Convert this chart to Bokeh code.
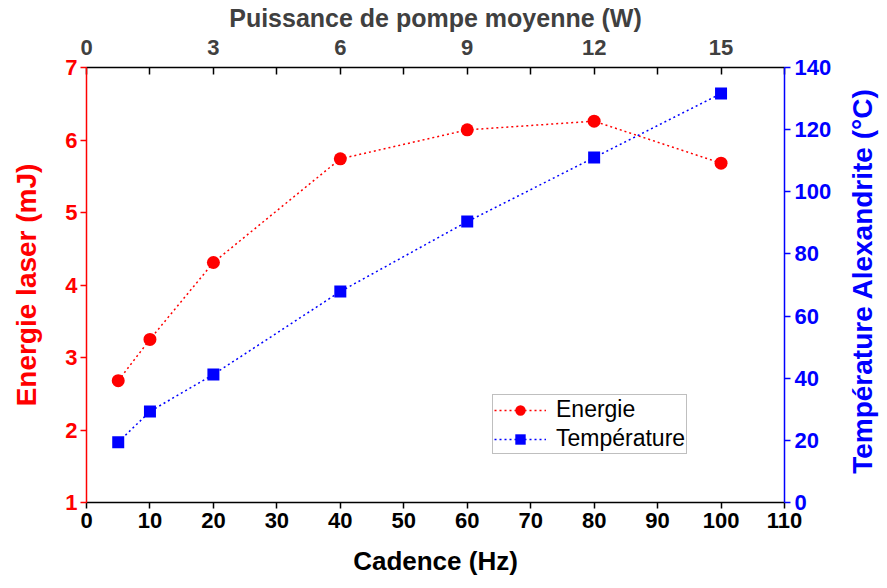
import math
from bokeh.plotting import figure
from bokeh.models import LinearAxis, Range1d, FixedTicker, Legend, LegendItem, Label
from bokeh.embed import file_html
from bokeh.resources import INLINE

# ---- data ----
cadence = [5, 10, 20, 40, 60, 80, 100]
energie = [2.68, 3.25, 4.31, 5.74, 6.14, 6.26, 5.68]
temperature = [19.4, 29.3, 41.2, 67.9, 90.4, 111.0, 131.6]

cadence_ticks = [0, 10, 20, 30, 40, 50, 60, 70, 80, 90, 100, 110]
energie_ticks = [1, 2, 3, 4, 5, 6, 7]
temperature_ticks = [0, 20, 40, 60, 80, 100, 120, 140]
puissance_ticks = [0, 3, 6, 9, 12, 15]
puissance_minor_ticks = [1.5, 4.5, 7.5, 10.5, 13.5, 16.5]
pompe_W_per_Hz = 0.15  # top axis: W = Hz * 0.15

RED = "#FF0000"
BLUE = "#0000FF"
FONT = "Liberation Sans"

p = figure(
    frame_width=698, frame_height=435,
    min_border_left=86, min_border_right=95, min_border_top=67, min_border_bottom=78,
    x_range=Range1d(0, 110), y_range=Range1d(1, 7),
    output_backend="svg", toolbar_location=None,
)
p.extra_y_ranges = {"temp": Range1d(0, 140)}
p.extra_x_ranges = {"pow": Range1d(0, 110 * pompe_W_per_Hz)}
p.grid.visible = False
p.outline_line_color = None
p.background_fill_color = "white"
p.border_fill_color = "white"


def style(ax, color, label_color, title_color, size_lab="22px", size_title="26px"):
    ax.axis_line_color = color
    ax.axis_line_width = 1.5
    ax.major_tick_line_color = color
    ax.major_tick_line_width = 1.5
    ax.major_tick_out = 6
    ax.major_tick_in = 0
    ax.minor_tick_line_color = None
    ax.major_label_text_font = FONT
    ax.major_label_text_font_style = "bold"
    ax.major_label_text_font_size = size_lab
    ax.major_label_text_color = label_color
    ax.axis_label_text_font = FONT
    ax.axis_label_text_font_style = "bold"
    ax.axis_label_text_font_size = size_title
    ax.axis_label_text_color = title_color


# bottom axis
xb = p.xaxis[0]
style(xb, "black", "black", "black")
xb.ticker = FixedTicker(ticks=cadence_ticks)
xb.axis_label = "Cadence (Hz)"
xb.major_label_standoff = 4
xb.axis_label_standoff = 15

# left axis
yl = p.yaxis[0]
style(yl, RED, RED, RED, size_title="28px")
yl.ticker = FixedTicker(ticks=energie_ticks)
yl.axis_label = "Energie laser (mJ)"
yl.major_label_standoff = 3
yl.axis_label_standoff = 20

# right axis (title drawn as a rotated label reading bottom-to-top)
yr = LinearAxis(y_range_name="temp")
style(yr, BLUE, BLUE, BLUE, size_title="28px")
yr.ticker = FixedTicker(ticks=temperature_ticks)
yr.major_label_standoff = 4
p.add_layout(yr, "right")

right_title = Label(
    x=110, y=70, y_range_name="temp", x_offset=78, y_offset=4,
    text="Température Alexandrite (°C)", angle=math.pi / 2,
    text_align="center", text_baseline="middle",
    text_font=FONT, text_font_style="bold", text_font_size="28px", text_color=BLUE,
)
p.add_layout(right_title, "right")

# top axis
xt = LinearAxis(x_range_name="pow")
style(xt, "black", "#404040", "#404040", size_title="25px")
xt.ticker = FixedTicker(ticks=puissance_ticks, minor_ticks=puissance_minor_ticks)
xt.major_tick_out = 0
xt.major_tick_in = 7
xt.minor_tick_line_color = "black"
xt.minor_tick_line_width = 1.5
xt.minor_tick_in = 7
xt.minor_tick_out = 0
xt.axis_label = "Puissance de pompe moyenne (W)"
xt.major_label_standoff = 13
xt.axis_label_standoff = 5
p.add_layout(xt, "above")

# series
le = p.line(cadence, energie, line_color=RED, line_width=1.5, line_dash="2 3")
se = p.scatter(cadence, energie, marker="circle", size=13, fill_color=RED, line_color=None)
lt = p.line(cadence, temperature, y_range_name="temp", line_color=BLUE, line_width=1.5, line_dash="2 3")
st = p.scatter(cadence, temperature, y_range_name="temp", marker="square", size=12,
               fill_color=BLUE, line_color=None)

legend = Legend(
    items=[LegendItem(label="Energie", renderers=[le, se]),
           LegendItem(label="Température", renderers=[lt, st])],
    location=(406, 48),
    label_text_font=FONT, label_text_font_size="23px", label_text_color="black",
    glyph_width=52, glyph_height=26, label_height=26, spacing=2,
    padding=1, margin=0, label_standoff=10,
    border_line_color="#808080", border_line_width=1,
    background_fill_color="white",
)
p.add_layout(legend, "center")

open("out.html", "w").write(file_html(p, INLINE))
